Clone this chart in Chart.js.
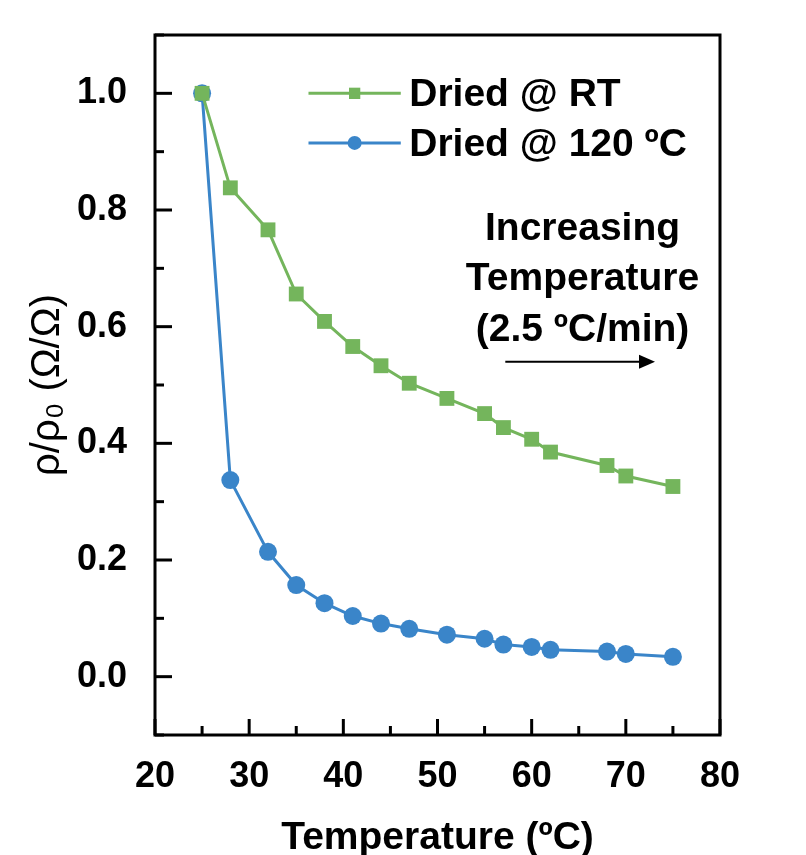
<!DOCTYPE html>
<html>
<head>
<meta charset="utf-8">
<script src="https://cdn.jsdelivr.net/npm/chart.js@4"></script>
<style>
  html, body { margin: 0; padding: 0; background: #fff; }
  #wrap { width: 806px; height: 855px; }
</style>
</head>
<body>
<div id="wrap"><canvas id="chart"></canvas></div>
<script>
// temperatures (ºC)
const temps = [25, 28, 32, 35, 38, 41, 44, 47, 51, 55, 57, 60, 62, 68, 70, 75];
// normalised resistivity, dried at room temperature
const driedRT = [1.0, 0.838, 0.766, 0.656, 0.609, 0.566, 0.533, 0.503, 0.477, 0.451, 0.427, 0.407, 0.385, 0.362, 0.344, 0.326];
// normalised resistivity, dried at 120 ºC
const dried120 = [1.0, 0.337, 0.214, 0.157, 0.126, 0.104, 0.091, 0.082, 0.072, 0.065, 0.055, 0.051, 0.046, 0.043, 0.039, 0.034];

const xTicks = [20, 30, 40, 50, 60, 70, 80];
const yTicks = [0.0, 0.2, 0.4, 0.6, 0.8, 1.0];
const seriesNames = ["Dried @ RT", "Dried @ 120 ºC"];
const noteLines = ["Increasing", "Temperature", "(2.5 ºC/min)"];

const GREEN = "#74b55c";
const BLUE = "#3a85c9";
const FONT = "'Liberation Sans', Arial, sans-serif";

/* =========================
   FRAME, INWARD TICKS, LEGEND, NOTE
========================= */
const framePlugin = {
    id: "frame",
    afterDraw(chart) {
        const ctx = chart.ctx;
        const a = chart.chartArea;
        const xs = chart.scales.x;
        const ys = chart.scales.y;

        ctx.save();
        ctx.strokeStyle = "#000";
        ctx.lineWidth = 3;
        ctx.strokeRect(a.left, a.top, a.right - a.left, a.bottom - a.top);

        // x ticks, major every 10, minor every 5
        for (let v = 20; v <= 80; v += 5) {
            const px = xs.getPixelForValue(v);
            const len = v % 10 === 0 ? 16 : 9;
            ctx.beginPath();
            ctx.moveTo(px, a.bottom);
            ctx.lineTo(px, a.bottom - len);
            ctx.stroke();
        }
        // y ticks, major every 0.2, minor every 0.1
        for (let i = -1; i <= 11; i++) {
            const py = ys.getPixelForValue(i / 10);
            const len = Math.abs(i) % 2 === 0 ? 17 : 9;
            ctx.beginPath();
            ctx.moveTo(a.left, py);
            ctx.lineTo(a.left + len, py);
            ctx.stroke();
        }

        // legend
        const colors = [GREEN, BLUE];
        const styles = ["rect", "circle"];
        const rows = [1.0, 0.915];
        ctx.font = "bold 39px " + FONT;
        ctx.textBaseline = "middle";
        ctx.textAlign = "left";
        rows.forEach((rv, i) => {
            const py = ys.getPixelForValue(rv);
            const x0 = xs.getPixelForValue(36.3);
            const x1 = xs.getPixelForValue(46.1);
            ctx.strokeStyle = colors[i];
            ctx.lineWidth = 3;
            ctx.beginPath();
            ctx.moveTo(x0, py);
            ctx.lineTo(x1, py);
            ctx.stroke();
            ctx.fillStyle = colors[i];
            Chart.helpers.drawPoint(ctx, {
                pointStyle: styles[i],
                radius: i === 0 ? 8 : 7,
                rotation: 0,
                borderWidth: 0
            }, xs.getPixelForValue(41.2), py);
            ctx.fillStyle = "#000";
            ctx.fillText(seriesNames[i], xs.getPixelForValue(47.0), py + 2);
        });

        // note text
        ctx.textAlign = "center";
        ctx.font = "bold 39px " + FONT;
        const noteY = [0.770, 0.684, 0.598];
        noteLines.forEach((t, i) => {
            ctx.fillText(t, xs.getPixelForValue(65.4), ys.getPixelForValue(noteY[i]) + 2);
        });

        // arrow
        const ay = ys.getPixelForValue(0.540);
        const ax0 = xs.getPixelForValue(57.2);
        const ax1 = xs.getPixelForValue(73.1);
        ctx.strokeStyle = "#000";
        ctx.lineWidth = 2;
        ctx.beginPath();
        ctx.moveTo(ax0, ay);
        ctx.lineTo(ax1 - 14, ay);
        ctx.stroke();
        ctx.fillStyle = "#000";
        ctx.beginPath();
        ctx.moveTo(ax1, ay);
        ctx.lineTo(ax1 - 16, ay - 7);
        ctx.lineTo(ax1 - 16, ay + 7);
        ctx.closePath();
        ctx.fill();

        ctx.restore();
    }
};

const ctx = document.getElementById("chart").getContext("2d");

new Chart(ctx, {
    type: "line",
    data: {
        datasets: [
            {
                label: seriesNames[0],
                data: temps.map((t, i) => ({ x: t, y: driedRT[i] })),
                borderColor: GREEN,
                backgroundColor: GREEN,
                borderWidth: 3,
                pointStyle: "rect",
                pointRadius: 10.5,
                pointBorderWidth: 0,
                tension: 0
            },
            {
                label: seriesNames[1],
                data: temps.map((t, i) => ({ x: t, y: dried120[i] })),
                borderColor: BLUE,
                backgroundColor: BLUE,
                borderWidth: 3,
                pointStyle: "circle",
                pointRadius: 9,
                pointBorderWidth: 0,
                tension: 0
            }
        ]
    },
    options: {
        responsive: true,
        maintainAspectRatio: false,
        animation: false,
        devicePixelRatio: 1,
        layout: {
            padding: { top: 35, right: 86, left: 0, bottom: 0 }
        },
        scales: {
            x: {
                type: "linear",
                min: 20,
                max: 80,
                afterBuildTicks: s => { s.ticks = xTicks.map(v => ({ value: v })); },
                afterFit: s => { s.height = 120; s.paddingLeft = 0; s.paddingRight = 0; },
                grid: { display: false },
                border: { display: false },
                ticks: {
                    color: "#000",
                    padding: 12,
                    font: { family: FONT, size: 36, weight: "bold" }
                },
                title: {
                    display: true,
                    text: "Temperature (ºC)",
                    color: "#000",
                    padding: { top: 20, bottom: -7 },
                    font: { family: FONT, size: 39, weight: "bold" }
                }
            },
            y: {
                type: "linear",
                min: -0.1,
                max: 1.1,
                afterBuildTicks: s => { s.ticks = yTicks.map(v => ({ value: v })); },
                afterFit: s => { s.width = 155; s.paddingTop = 0; s.paddingBottom = 0; },
                grid: { display: false },
                border: { display: false },
                ticks: {
                    color: "#000",
                    padding: 20,
                    callback: v => v.toFixed(1),
                    font: { family: FONT, size: 36, weight: "bold" }
                },
                title: {
                    display: true,
                    text: "ρ/ρ₀ (Ω/Ω)",
                    color: "#000",
                    padding: { top: 24, bottom: 0 },
                    font: { family: FONT, size: 40, weight: "normal" }
                }
            }
        },
        plugins: {
            legend: { display: false },
            tooltip: { enabled: false }
        }
    },
    plugins: [framePlugin]
});
</script>
</body>
</html>
